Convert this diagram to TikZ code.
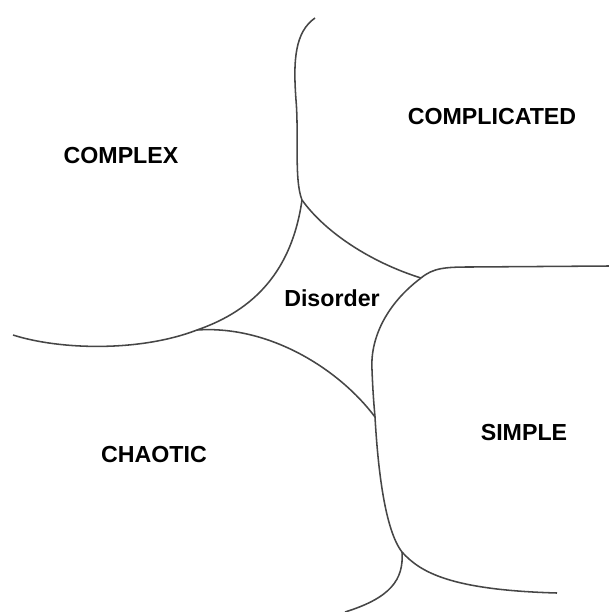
\documentclass[tikz,border=0pt]{standalone}
\usepackage{fontspec}
\setmainfont{Liberation Sans}
\usepackage{xcolor}
\definecolor{edgegray}{RGB}{70,70,70}
\usepackage{tikz}

\begin{document}
\begin{tikzpicture}[x=0.025cm,y=-0.025cm,
      border/.style={draw=edgegray,line width=1.1pt},
      regionname/.style={font=\fontsize{16.5}{18}\selectfont\bfseries,inner sep=0pt,anchor=base}]
    \useasboundingbox (0,0) rectangle (609,612);
    % meeting points of the boundaries
    \coordinate (jTop) at (302,200);
    \coordinate (jRight) at (421,278);
    \coordinate (jLow) at (375,417);
    \coordinate (jBottom) at (402,552);
    \coordinate (jLeft) at (197,330);
    % free ends at the border of the picture
    \coordinate (eTop) at (315,18);
    \coordinate (eLeft) at (13,335);
    \coordinate (eRight) at (609,266);
    \coordinate (eBotRight) at (557,593);
    \coordinate (eBottom) at (345,612);
    % boundaries between the domains
    \draw[border] (eTop) .. controls (295,32) and (293,60) .. (296,100)
      .. controls (299,135) and (294,180) .. (jTop);
    \draw[border] (jTop) .. controls (325,232) and (370,262) .. (jRight);
    \draw[border] (jRight) .. controls (433,268) and (445,267) .. (470,267) -- (eRight);
    \draw[border] (jRight) .. controls (385,305) and (370,340) .. (372,370)
      .. controls (373,395) and (374,405) .. (jLow);
    \draw[border] (jLow) .. controls (378,470) and (385,530) .. (jBottom);
    \draw[border] (jBottom) .. controls (420,572) and (450,590) .. (eBotRight);
    \draw[border] (jBottom) .. controls (404,580) and (390,598) .. (eBottom);
    \draw[border] (eLeft) .. controls (60,350) and (140,352) .. (jLeft);
    \draw[border] (jLeft) .. controls (255,310) and (292,270) .. (jTop);
    \draw[border] (jLeft) .. controls (270,325) and (340,370) .. (jLow);
    % domain names
    \node[regionname] (complex) at (121,163) {COMPLEX};
    \node[regionname] (complicated) at (492,124) {COMPLICATED};
    \node[regionname] (disorder) at (332,306) {Disorder};
    \node[regionname] (chaotic) at (154,462) {CHAOTIC};
    \node[regionname] (simple) at (524,440) {SIMPLE};
\end{tikzpicture}
\end{document}
